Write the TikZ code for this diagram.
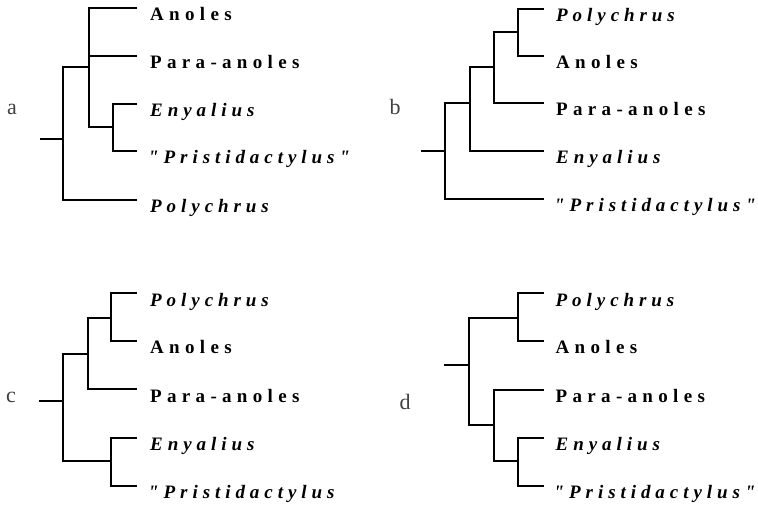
\documentclass[tikz,border=0pt]{standalone}
\usepackage{fontspec}
\setmainfont{Liberation Serif}
\usepackage{tikz}
\usetikzlibrary{positioning}
\newfontfamily\taxfont[LetterSpace=28]{Liberation Serif}
\newfontfamily\genfont[LetterSpace=26]{Liberation Serif}
\tikzset{
  br/.style={line width=1.8pt},
  tx/.style={anchor=base west, inner sep=0pt,
             font=\taxfont\fontsize{19}{21}\selectfont\bfseries},
  gen/.style={tx, font=\genfont\fontsize{19}{21}\selectfont\bfseries\itshape},
  lb/.style={anchor=base, inner sep=0pt, text=black!75,
             font=\fontsize{22}{24}\selectfont},
}

\begin{document}
\begin{tikzpicture}[x=1pt, y=-1pt]
  \useasboundingbox (0,0) rectangle (758,505);

  % tree a
  \node[lb] (labA) at (12,115) {a};
  \coordinate (aR0) at (40,139);
  \coordinate (aR) at (63,139);
  \coordinate (a1) at (89,67);
  \coordinate (a2) at (112.7,127);
  \coordinate (aT1) at (137,8);
  \coordinate (aT2) at (137,55.7);
  \coordinate (aT3) at (137,104);
  \coordinate (aT4) at (137,151);
  \coordinate (aT5) at (137,200);
  \node[below right=12.7pt and 13pt of aT1, tx] (aAno) {Anoles};
  \node[below right=12.7pt and 13pt of aT2, tx] (aPara) {Para-anoles};
  \node[below right=12.7pt and 13pt of aT3, gen] (aEny) {Enyalius};
  \node[below right=12.7pt and 11pt of aT4, gen] (aPri) {"Pristidactylus"};
  \node[below right=12.7pt and 13pt of aT5, gen] (aPol) {Polychrus};
  \draw[br] (aR0) -- (aR);
  \draw[br] (aR) |- (a1);
  \draw[br] (aR) |- (aT5);
  \draw[br] (a1) |- (aT1);
  \draw[br] (a1) |- (aT2);
  \draw[br] (a1) |- (a2);
  \draw[br] (a2) |- (aT3);
  \draw[br] (a2) |- (aT4);

  % tree b
  \node[lb] (labB) at (395,115) {b};
  \coordinate (bR0) at (420.7,151);
  \coordinate (bR) at (445,151);
  \coordinate (b1) at (470,103);
  \coordinate (b2) at (494.3,66.7);
  \coordinate (b3) at (518.3,32.3);
  \coordinate (bT1) at (544,9);
  \coordinate (bT2) at (544,55.7);
  \coordinate (bT3) at (544,102.7);
  \coordinate (bT4) at (544,150.7);
  \coordinate (bT5) at (544,199.3);
  \node[below right=12.7pt and 12pt of bT1, gen] (bPol) {Polychrus};
  \node[below right=12.7pt and 12pt of bT2, tx] (bAno) {Anoles};
  \node[below right=12.7pt and 12pt of bT3, tx] (bPara) {Para-anoles};
  \node[below right=12.7pt and 12pt of bT4, gen] (bEny) {Enyalius};
  \node[below right=12.7pt and 10pt of bT5, gen] (bPri) {"Pristidactylus"};
  \draw[br] (bR0) -- (bR);
  \draw[br] (bR) |- (b1);
  \draw[br] (bR) |- (bT5);
  \draw[br] (b1) |- (b2);
  \draw[br] (b1) |- (bT4);
  \draw[br] (b2) |- (b3);
  \draw[br] (b2) |- (bT3);
  \draw[br] (b3) |- (bT1);
  \draw[br] (b3) |- (bT2);

  % tree c
  \node[lb] (labC) at (11,402) {c};
  \coordinate (cR0) at (39,401);
  \coordinate (cR) at (63,401);
  \coordinate (c1) at (88.3,354);
  \coordinate (c2) at (111,317.7);
  \coordinate (c3) at (111,461);
  \coordinate (cT1) at (137,293.3);
  \coordinate (cT2) at (137,341);
  \coordinate (cT3) at (137,389.3);
  \coordinate (cT4) at (137,437.7);
  \coordinate (cT5) at (137,486);
  \node[below right=12.7pt and 13pt of cT1, gen] (cPol) {Polychrus};
  \node[below right=12.7pt and 13pt of cT2, tx] (cAno) {Anoles};
  \node[below right=12.7pt and 13pt of cT3, tx] (cPara) {Para-anoles};
  \node[below right=12.7pt and 13pt of cT4, gen] (cEny) {Enyalius};
  \node[below right=12.7pt and 11pt of cT5, gen] (cPri) {"Pristidactylus};
  \draw[br] (cR0) -- (cR);
  \draw[br] (cR) |- (c1);
  \draw[br] (cR) |- (c3);
  \draw[br] (c1) |- (c2);
  \draw[br] (c1) |- (cT3);
  \draw[br] (c2) |- (cT1);
  \draw[br] (c2) |- (cT2);
  \draw[br] (c3) |- (cT4);
  \draw[br] (c3) |- (cT5);

  % tree d
  \node[lb] (labD) at (405,409) {d};
  \coordinate (dR0) at (444,365);
  \coordinate (dR) at (469.3,365);
  \coordinate (d1) at (517.7,317.7);
  \coordinate (d2) at (494.3,425);
  \coordinate (d3) at (517.7,461);
  \coordinate (dT1) at (543.5,293.3);
  \coordinate (dT2) at (543.5,341);
  \coordinate (dT3) at (543.5,390);
  \coordinate (dT4) at (543.5,437.7);
  \coordinate (dT5) at (543.5,486);
  \node[below right=12.7pt and 12pt of dT1, gen] (dPol) {Polychrus};
  \node[below right=12.7pt and 12pt of dT2, tx] (dAno) {Anoles};
  \node[below right=12.7pt and 12pt of dT3, tx] (dPara) {Para-anoles};
  \node[below right=12.7pt and 12pt of dT4, gen] (dEny) {Enyalius};
  \node[below right=12.7pt and 10pt of dT5, gen] (dPri) {"Pristidactylus"};
  \draw[br] (dR0) -- (dR);
  \draw[br] (dR) |- (d1);
  \draw[br] (dR) |- (d2);
  \draw[br] (d1) |- (dT1);
  \draw[br] (d1) |- (dT2);
  \draw[br] (d2) |- (dT3);
  \draw[br] (d2) |- (d3);
  \draw[br] (d3) |- (dT4);
  \draw[br] (d3) |- (dT5);
\end{tikzpicture}
\end{document}
